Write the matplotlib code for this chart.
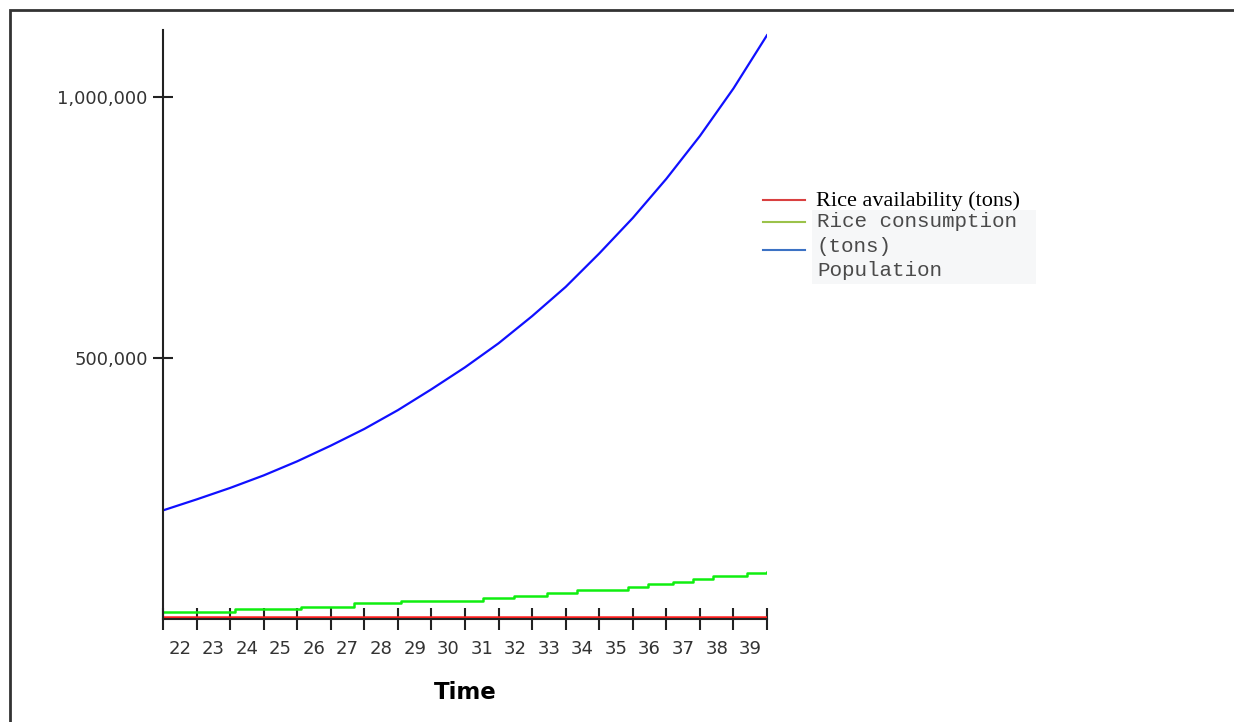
import matplotlib
matplotlib.use('Agg')
import matplotlib.pyplot as plt
from matplotlib.lines import Line2D
from matplotlib.patches import Rectangle

# data
pop_t = [21.5, 22.5, 23.5, 24.5, 25.5, 26.5, 27.5, 28.5, 29.5, 30.5,
         31.5, 32.5, 33.5, 34.5, 35.5, 36.5, 37.5, 38.5, 39.5]
population = [208000, 229000, 251000, 275000, 302000, 332000, 364000, 400000, 440000, 482000,
              528000, 580000, 636000, 700000, 768000, 843000, 925000, 1016000, 1118000]

cons_t = [21.5, 23.65, 25.6, 27.2, 28.6, 31.05, 31.95, 32.95, 33.85, 35.35,
          35.95, 36.7, 37.3, 37.9, 38.9, 39.5]
consumption = [14000, 18600, 23600, 30000, 34500, 39600, 44600, 50400, 55500, 60700,
               66500, 71400, 76000, 82400, 87500, 90600]

avail_t = [21.5, 39.5]
availability = [3500, 3500]

tick_pos = [21.5 + i for i in range(19)]
year_labels = [str(y) for y in range(22, 40)]

W, H = 1234, 722
fig = plt.figure(figsize=(W / 100, H / 100), dpi=100)

# outer frame (top and left visible)
fig.add_artist(Rectangle((10 / W, -0.1), 1.2, 1.1 - 10 / H, transform=fig.transFigure,
                         fill=False, edgecolor='#333333', linewidth=2))

ax = fig.add_axes([163 / W, 1 - 619 / H, (767 - 163) / W, (619 - 30) / H])
ax.plot(pop_t, population, color='#1010ff', lw=1.6)
ax.plot(cons_t, consumption, color='#10ee10', lw=1.8, drawstyle='steps-post')
ax.plot(avail_t, availability, color='#ff2020', lw=1.8)

ax.set_xlim(21.5, 39.5)
ax.set_ylim(0, 1128000)
for s in ['top', 'right']:
    ax.spines[s].set_visible(False)
for s in ['left', 'bottom']:
    ax.spines[s].set_linewidth(1.5)
    ax.spines[s].set_color('#222222')

ax.set_xticks(tick_pos, [''] * len(tick_pos))
ax.set_xticks(list(range(22, 40)), year_labels, minor=True)
ax.tick_params(axis='x', which='major', direction='inout', length=16, width=1.5, color='#222222')
ax.tick_params(axis='x', which='minor', length=0, pad=15, labelsize=13, labelcolor='#333333')
ax.set_yticks([500000, 1000000], ['500,000', '1,000,000'])
ax.tick_params(axis='y', direction='inout', length=14, width=1.5, color='#222222',
               labelsize=13, labelcolor='#333333', pad=4)
ax.set_xlabel('Time', fontsize=16.5, fontweight='bold', labelpad=17)

# legend drawn by hand (mixed fonts as in the reference)
fig.add_artist(Rectangle((812 / W, 1 - 284 / H), (1036 - 812) / W, (284 - 210) / H,
                         transform=fig.transFigure, facecolor='#f6f7f8', edgecolor='none'))
for yy, c in [(200, '#d94040'), (222, '#9bc24a'), (250, '#3c72c4')]:
    fig.add_artist(Line2D([763 / W, 805 / W], [1 - yy / H, 1 - yy / H],
                          transform=fig.transFigure, color=c, lw=1.5))
fig.text(816 / W, 1 - 201 / H, 'Rice availability (tons)', family='Liberation Serif',
         fontsize=16, color='black', va='center')
for yy, txt in [(222, 'Rice consumption'), (246, '(tons)'), (270, 'Population')]:
    fig.text(817 / W, 1 - yy / H, txt, family='Liberation Mono',
             fontsize=15, color='#4a4a4a', va='center')

fig.savefig('out.png', dpi=100)
